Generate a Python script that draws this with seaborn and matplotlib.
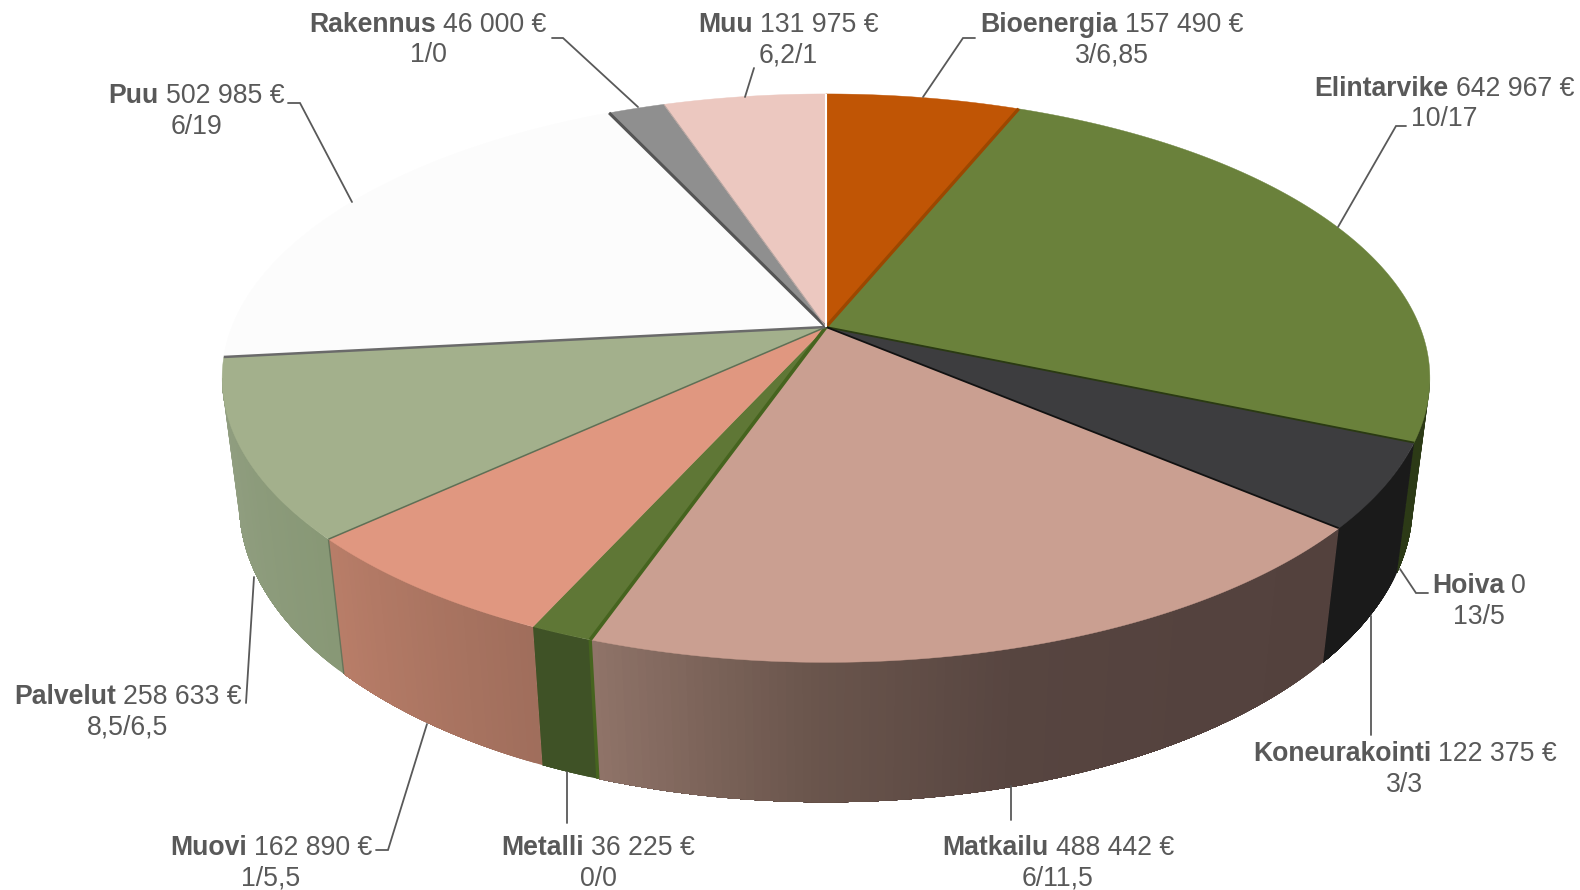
import numpy as np
import pandas as pd
import seaborn as sns
import matplotlib
matplotlib.use("Agg")
import matplotlib.pyplot as plt

# ---- data ----
sectors = ["Bioenergia", "Elintarvike", "Hoiva", "Koneurakointi", "Matkailu", "Metalli",
           "Muovi", "Palvelut", "Puu", "Rakennus", "Muu"]
euros = [157490, 642967, 0, 122375, 488442, 36225, 162890, 258633, 502985, 46000, 131975]
value_labels = ["157 490 €", "642 967 €", "0", "122 375 €", "488 442 €", "36 225 €",
                "162 890 €", "258 633 €", "502 985 €", "46 000 €", "131 975 €"]
ratio_labels = ["3/6,85", "10/17", "13/5", "3/3", "6/11,5", "0/0",
                "1/5,5", "8,5/6,5", "6/19", "1/0", "6,2/1"]
top_colors = ["#C05505", "#6A813B", "#3D3D3F", "#3D3D3F", "#CA9F91", "#5F7736",
              "#E09780", "#A3B08C", "#FCFCFC", "#8F8F8F", "#ECC8C0"]
wall_stops = {
    "Elintarvike": ["#2C3A16", "#2C3A16"],
    "Koneurakointi": ["#1A1A1A", "#1A1A1A"],
    "Matkailu": ["#53413D", "#54423E", "#574540", "#6B564D", "#8F7368"],
    "Metalli": ["#3F5226", "#3F5226"],
    "Muovi": ["#A06E5C", "#B87D68"],
    "Palvelut": ["#889876", "#929F82"],
}
seam_colors = ["#9C4700", "#2A3A12", "#111111", "#111111", "#46641F", "#5F7736",
               "#5F6F55", "#6A6A6A", "#555555", "#B5A5A0", "#FFFFFF"]
seam_widths = [2.4, 1.3, 0, 1.3, 2.6, 0, 1.1, 1.8, 2.2, 0.7, 1.5]

label_x = [1112, 1444, 1479, 1405, 1058, 598, 271, 128, 196, 428, 788]
label_y = [25, 89, 586, 754, 848, 848, 848, 697, 96, 25, 25]
leaders = {
    "Bioenergia": [(923, 97), (963, 38), (975, 38)],
    "Elintarvike": [(1338, 227), (1396, 126), (1406, 126)],
    "Hoiva": [(1400, 569), (1416, 593), (1428, 593)],
    "Koneurakointi": [(1371, 616), (1371, 735)],
    "Matkailu": [(1011, 786), (1011, 820)],
    "Metalli": [(567, 772), (567, 823)],
    "Muovi": [(427, 724), (388, 850), (376, 850)],
    "Palvelut": [(254, 577), (246, 703)],
    "Puu": [(288, 103), (300, 103), (352, 202)],
    "Rakennus": [(552, 38), (563, 38), (638, 107)],
    "Muu": [(754, 68), (745, 97)],
}

df = pd.DataFrame({"sector": sectors, "euros": euros, "value": value_labels, "ratio": ratio_labels})
cum = np.cumsum(df["euros"].to_numpy(float)) / df["euros"].sum() * 360.0
df["start"] = np.r_[0.0, cum[:-1]]
df["end"] = cum

# ---- projection of the tilted disc onto the picture ----
CX, CY, R, H, K, M, Q = 826.0, 327.0, 594.0, 275.0, 0.18, 0.028, 128.0
TANG_R, TANG_L = 100.4, 259.6


def project(deg, z=0.0, r=1.0):
    a = np.radians(np.atleast_1d(deg))
    X, Y = r * np.sin(a), r * np.cos(a)
    w = 1.0 / (1.0 + K * Y + M * z)
    return CX + R * X * w, CY - (H * Y - Q * z) * w


sns.set_theme(style="white")
plt.rcParams["font.family"] = ["Liberation Sans", "DejaVu Sans"]
fig = plt.figure(figsize=(15.8, 8.9), dpi=100)
ax = fig.add_axes([0, 0, 1, 1])
ax.set_xlim(0, 1580)
ax.set_ylim(890, 0)
ax.set_axis_off()

# outer walls: each band reaches to the far end, the next band paints over it
for row in df.itertuples():
    if row.sector not in wall_stops:
        continue
    a0, a1 = max(row.start, TANG_R), min(row.end, TANG_L)
    if a1 <= a0:
        continue
    n = max(2, int((a1 - a0) * 1.5))
    edges = np.linspace(a0, a1, n + 1)
    shades = sns.blend_palette(wall_stops[row.sector], n)
    for i in range(n):
        seg = np.linspace(edges[i], a1, max(3, 2 * (n - i) + 1))
        xt, yt = project(seg, 0)
        xb, yb = project(seg[::-1], 1)
        ax.fill(np.r_[xt, xb], np.r_[yt, yb], color=shades[i], lw=0, zorder=2)

# top faces
for row, col in zip(df.itertuples(), top_colors):
    if row.end - row.start <= 0:
        continue
    arc = np.linspace(row.start, row.end, 200)
    x, y = project(arc)
    ax.fill(np.r_[CX, x], np.r_[CY, y], color=col, lw=0.3, zorder=3)

# seams between the slices
for end, col, lw in zip(df["end"], seam_colors, seam_widths):
    if lw <= 0:
        continue
    x, y = project(end)
    ax.plot([CX, x[0]], [CY, y[0]], color=col, lw=lw, solid_capstyle="butt", zorder=4)

# edges on the wall
for name, col, lw in [("Matkailu", "#46641F", 2.4), ("Muovi", "#66755A", 1.0)]:
    a = df.loc[df["sector"] == name, "end"].iloc[0]
    xt, yt = project(a, 0)
    xb, yb = project(a, 1)
    ax.plot([xt[0], xb[0]], [yt[0], yb[0]], color=col, lw=lw, solid_capstyle="butt", zorder=2.5)

# labels and leader lines
TXT = "#595959"
FS = 19.2
LINE = 30.5
renderer = fig.canvas.get_renderer()


def text_width(s, **kw):
    t = ax.text(0, 0, s, fontsize=FS, **kw)
    w = t.get_window_extent(renderer).width
    t.remove()
    return w


space = text_width("n n") - text_width("nn")
for row, lx, ly in zip(df.itertuples(), label_x, label_y):
    wb = text_width(row.sector, fontweight="bold")
    wv = text_width(row.value)
    left = lx - (wb + space + wv) / 2
    ax.text(left, ly, row.sector, fontsize=FS, fontweight="bold", color=TXT, ha="left", va="center", zorder=6)
    ax.text(left + wb + space, ly, row.value, fontsize=FS, color=TXT, ha="left", va="center", zorder=6)
    ax.text(lx, ly + LINE, row.ratio, fontsize=FS, color=TXT, ha="center", va="center", zorder=6)
    pts = np.array(leaders[row.sector])
    ax.plot(pts[:, 0], pts[:, 1], color=TXT, lw=1.3, zorder=5, solid_joinstyle="miter")

fig.savefig("out.png", dpi=100, facecolor="white")
